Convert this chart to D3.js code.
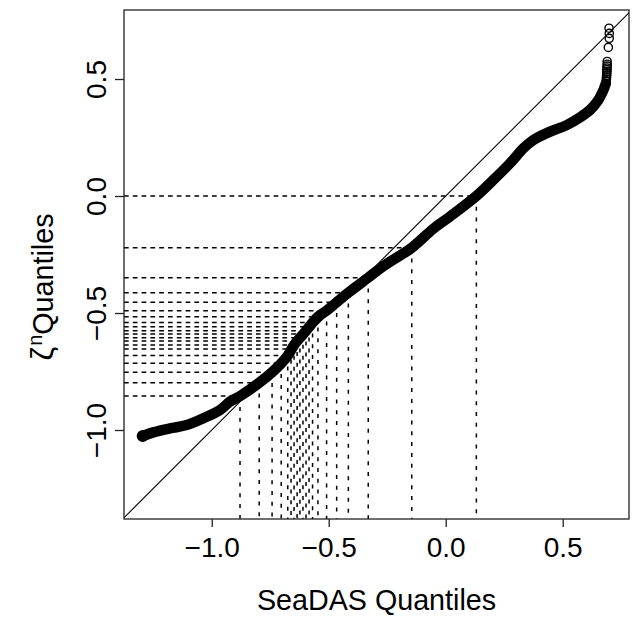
<!DOCTYPE html>
<html><head><meta charset="utf-8">
<script src="https://cdn.jsdelivr.net/npm/d3@7"></script>
<style>
body{margin:0;background:#fff}
text{font-family:"Liberation Sans",Arial,Helvetica,sans-serif;fill:#000}
</style>
</head><body>
<svg id="c" width="636" height="617"></svg>
<script>
// ---- data ----
const tickValues = [-1.0, -0.5, 0.0, 0.5];
const tickLabels = ["\u22121.0", "\u22120.5", "0.0", "0.5"];
const xTitle = "SeaDAS Quantiles";
const yTitleSymbol = "\u03B6";
const yTitleSup = "n";
const yTitleRest = "Quantiles";

// dense part of the Q-Q point cloud (SeaDAS quantile, zeta^n quantile)
const curveX = [-1.295,-1.250,-1.178,-1.107,-1.036,-0.965,-0.922,-0.879,-0.797,-0.742,-0.703,-0.675,-0.648,-0.623,-0.597,-0.569,-0.546,-0.509,-0.466,-0.416,-0.331,-0.267,-0.145,-0.053,0.018,0.131,0.203,0.275,0.332,0.374,0.446,0.517,0.574,0.617,0.652,0.674,0.684];
const curveY = [-1.026,-1.010,-0.993,-0.979,-0.950,-0.915,-0.879,-0.855,-0.798,-0.753,-0.715,-0.682,-0.637,-0.606,-0.576,-0.541,-0.516,-0.490,-0.454,-0.413,-0.349,-0.300,-0.221,-0.140,-0.088,0.000,0.068,0.140,0.204,0.239,0.275,0.303,0.336,0.368,0.410,0.453,0.480];
// sparse upper tail points
const tailX = [0.686,0.687,0.687,0.688,0.688,0.689,0.689,0.689,0.690,0.690,0.690,0.695,0.699,0.699,0.698];
const tailY = [0.492,0.500,0.508,0.516,0.524,0.532,0.540,0.547,0.555,0.563,0.575,0.635,0.674,0.695,0.717];
// quantile reference points (dashed guide lines)
const quantX = [-0.879,-0.797,-0.742,-0.703,-0.675,-0.661,-0.648,-0.635,-0.623,-0.610,-0.597,-0.584,-0.569,-0.546,-0.509,-0.466,-0.416,-0.331,-0.145,0.131];
const quantY = [-0.855,-0.798,-0.753,-0.715,-0.682,-0.654,-0.637,-0.620,-0.606,-0.590,-0.576,-0.559,-0.541,-0.516,-0.490,-0.454,-0.413,-0.349,-0.221,0.000];

// ---- layout ----
const plot = {left:124, right:629, top:10, bottom:519};
const xDomain = [-1.3748, 0.7833];
const yDomain = [-1.3803, 0.7949];

const svg = d3.select("#c");
const x = d3.scaleLinear().domain(xDomain).range([plot.left, plot.right]);
const y = d3.scaleLinear().domain(yDomain).range([plot.bottom, plot.top]);

svg.append("defs").append("clipPath").attr("id","clip")
  .append("rect").attr("x",plot.left).attr("y",plot.top)
  .attr("width",plot.right-plot.left).attr("height",plot.bottom-plot.top);

const g = svg.append("g").attr("clip-path","url(#clip)");

// dashed guides
const hq = quantX.map((d,i)=>({x:d,y:quantY[i]}));
g.selectAll("line.h").data(hq).join("line").attr("class","h")
  .attr("x1",x(xDomain[0])).attr("x2",d=>x(d.x))
  .attr("y1",d=>y(d.y)).attr("y2",d=>y(d.y))
  .attr("stroke","#000").attr("stroke-width",1.5).attr("stroke-dasharray","4.7,4.1");
g.selectAll("line.v").data(hq).join("line").attr("class","v")
  .attr("x1",d=>x(d.x)).attr("x2",d=>x(d.x))
  .attr("y1",d=>y(d.y)).attr("y2",y(yDomain[0]))
  .attr("stroke","#000").attr("stroke-width",1.5).attr("stroke-dasharray","4,6.8");

// 1:1 line
g.append("line")
  .attr("x1",x(-2)).attr("y1",y(-2)).attr("x2",x(2)).attr("y2",y(2))
  .attr("stroke","#000").attr("stroke-width",1.1);

// dense point band
const pts = curveX.map((d,i)=>[d,curveY[i]]);
g.append("path").datum(pts)
  .attr("d", d3.line().x(d=>x(d[0])).y(d=>y(d[1])).curve(d3.curveCatmullRom))
  .attr("fill","none").attr("stroke","#000").attr("stroke-width",10.5)
  .attr("stroke-linecap","round").attr("stroke-linejoin","round");
// first point circle
g.append("circle").attr("cx",x(curveX[0])).attr("cy",y(curveY[0])).attr("r",4.6)
  .attr("fill","none").attr("stroke","#000").attr("stroke-width",2.8);

// tail circles
g.selectAll("circle.t").data(tailX.map((d,i)=>[d,tailY[i]])).join("circle").attr("class","t")
  .attr("cx",d=>x(d[0])).attr("cy",d=>y(d[1])).attr("r",4.1)
  .attr("fill","none").attr("stroke","#000").attr("stroke-width",1.4);

// box
svg.append("rect").attr("x",plot.left).attr("y",plot.top)
  .attr("width",plot.right-plot.left).attr("height",plot.bottom-plot.top)
  .attr("fill","none").attr("stroke","#222").attr("stroke-width",1.3);

// axes
const fmt = d => tickLabels[tickValues.indexOf(d)];
const xa = svg.append("g").attr("transform",`translate(0,${plot.bottom})`)
  .call(d3.axisBottom(x).tickValues(tickValues).tickFormat(fmt).tickSize(8).tickPadding(7).tickSizeOuter(0));
const ya = svg.append("g").attr("transform",`translate(${plot.left},0)`)
  .call(d3.axisLeft(y).tickValues(tickValues).tickFormat(fmt).tickSize(9).tickPadding(9).tickSizeOuter(0));
[xa,ya].forEach(a=>{
  a.select(".domain").remove();
  a.selectAll(".tick line").attr("stroke","#222").attr("stroke-width",1.3);
  a.selectAll(".tick text").attr("font-size",28).attr("font-family",'"Liberation Sans",Arial,sans-serif').attr("fill","#000");
});
xa.selectAll(".tick text").attr("y",0).attr("dy","38px");
ya.selectAll(".tick text")
  .attr("text-anchor","middle")
  .attr("x",0).attr("y",0).attr("dy","0px")
  .attr("transform","translate(-18,0) rotate(-90)");

// titles
svg.append("text").attr("x",(plot.left+plot.right)/2).attr("y",610)
  .attr("text-anchor","middle").attr("font-size",28.7).text(xTitle);
const yt = svg.append("text")
  .attr("transform",`translate(53,287) rotate(-90)`)
  .attr("text-anchor","middle").attr("font-size",28.7);
yt.append("tspan").attr("font-size",31).text(yTitleSymbol);
yt.append("tspan").attr("font-size",20).attr("dy",-11).attr("dx",1).text(yTitleSup);
yt.append("tspan").attr("dy",11).text(yTitleRest);
</script>
</body></html>
